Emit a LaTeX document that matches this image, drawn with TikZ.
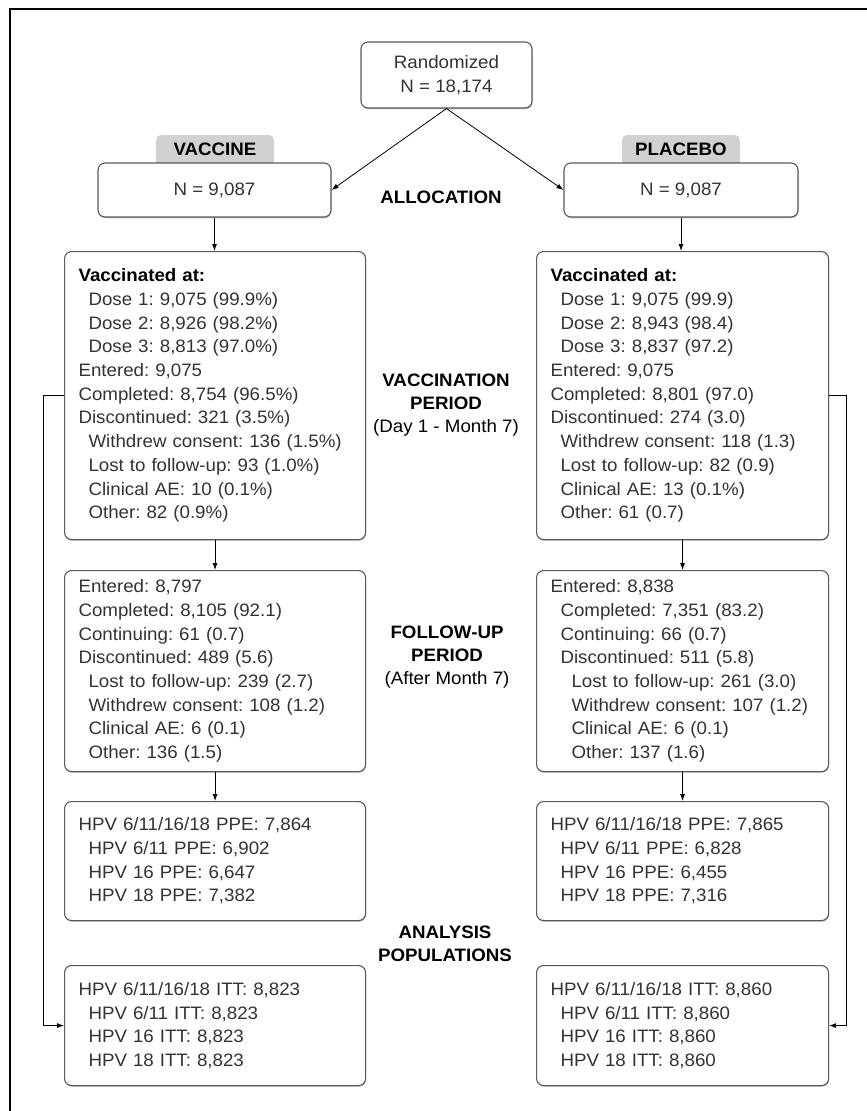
\documentclass[tikz,border=0pt]{standalone}
\usepackage{fontspec}
\setmainfont{Liberation Sans}[FakeStretch=1.04]
\usetikzlibrary{arrows.meta,shadows}
\frenchspacing
\newcommand{\ind}{\hspace*{10pt}}
\newcommand{\indd}{\hspace*{21pt}}

\begin{document}
\begin{tikzpicture}[x=1pt,y=-1pt,
  txt/.style={font=\fontsize{18}{23.7}\selectfont},
  head/.style={font=\bfseries\fontsize{18}{23.5}\selectfont, align=center, inner sep=0pt},
  box/.style={txt, draw=black!65, line width=1.1pt, rounded corners=7pt, fill=white,
    anchor=north west, align=left, inner xsep=14pt, inner ysep=0pt, text=black!80,
    drop shadow={shadow xshift=0.6pt, shadow yshift=-1.3pt, fill=black!45}},
  lbox/.style={box, text width=273pt},
  rbox/.style={box, text width=264pt},
  arr/.style={-{Latex[length=7pt,width=5pt]}, line width=0.8pt}]
\useasboundingbox (0,0) rectangle (867,1111);
%frame
\draw[line width=1.3pt] (867,9) -- (10,9) -- (10,1111);
%top
\node[box, anchor=center, align=center, inner xsep=0pt, minimum width=171pt, minimum height=66pt] (rand) at (446.5,75) {Randomized\\N = 18,174};
\fill[black!18, rounded corners=5pt] (156,135) rectangle (274,172);
\fill[black!18, rounded corners=5pt] (622,135) rectangle (740,172);
\node[head] (tv) at (215,149) {VACCINE};
\node[head] (tp) at (681,149) {PLACEBO};
\node[box, anchor=center, align=center, inner xsep=0pt, minimum width=233pt, minimum height=54pt] (nv) at (214.5,190) {N = 9,087};
\node[box, anchor=center, align=center, inner xsep=0pt, minimum width=234pt, minimum height=54pt] (np) at (681,190) {N = 9,087};
\node[head] (alloc) at (441,197) {ALLOCATION};
%vaccination period
\node[lbox, minimum height=288pt] (vv) at (64,251) {\textbf{\color{black}Vaccinated at:}\\
\ind Dose 1: 9,075 (99.9\%)\\
\ind Dose 2: 8,926 (98.2\%)\\
\ind Dose 3: 8,813 (97.0\%)\\
Entered: 9,075\\
Completed: 8,754 (96.5\%)\\
Discontinued: 321 (3.5\%)\\
\ind Withdrew consent: 136 (1.5\%)\\
\ind Lost to follow-up: 93 (1.0\%)\\
\ind Clinical AE: 10 (0.1\%)\\
\ind Other: 82 (0.9\%)};
\node[rbox, minimum height=288pt] (vp) at (536,251) {\textbf{\color{black}Vaccinated at:}\\
\ind Dose 1: 9,075 (99.9)\\
\ind Dose 2: 8,943 (98.4)\\
\ind Dose 3: 8,837 (97.2)\\
Entered: 9,075\\
Completed: 8,801 (97.0)\\
Discontinued: 274 (3.0)\\
\ind Withdrew consent: 118 (1.3)\\
\ind Lost to follow-up: 82 (0.9)\\
\ind Clinical AE: 13 (0.1\%)\\
\ind Other: 61 (0.7)};
\node[head] (vper) at (446,392) {VACCINATION\\PERIOD};
\node[txt, inner sep=0pt] (vday) at (446,428) {(Day 1 - Month 7)};
%follow-up period
\node[lbox, minimum height=201pt] (fv) at (64,570) {Entered: 8,797\\
Completed: 8,105 (92.1)\\
Continuing: 61 (0.7)\\
Discontinued: 489 (5.6)\\
\ind Lost to follow-up: 239 (2.7)\\
\ind Withdrew consent: 108 (1.2)\\
\ind Clinical AE: 6 (0.1)\\
\ind Other: 136 (1.5)};
\node[rbox, minimum height=201pt] (fp) at (536,570) {Entered: 8,838\\
\ind Completed: 7,351 (83.2)\\
\ind Continuing: 66 (0.7)\\
\ind Discontinued: 511 (5.8)\\
\indd Lost to follow-up: 261 (3.0)\\
\indd Withdrew consent: 107 (1.2)\\
\indd Clinical AE: 6 (0.1)\\
\indd Other: 137 (1.6)};
\node[head] (fper) at (447,644) {FOLLOW-UP\\PERIOD};
\node[txt, inner sep=0pt] (fmon) at (447,680) {(After Month 7)};
%analysis populations
\node[lbox, minimum height=119pt] (pv) at (64,801) {HPV 6/11/16/18 PPE: 7,864\\
\ind HPV 6/11 PPE: 6,902\\
\ind HPV 16 PPE: 6,647\\
\ind HPV 18 PPE: 7,382};
\node[rbox, minimum height=119pt] (pp) at (536,801) {HPV 6/11/16/18 PPE: 7,865\\
\ind HPV 6/11 PPE: 6,828\\
\ind HPV 16 PPE: 6,455\\
\ind HPV 18 PPE: 7,316};
\node[head] (anal) at (445,944) {ANALYSIS\\POPULATIONS};
\node[lbox, minimum height=120pt] (iv) at (64,965) {HPV 6/11/16/18 ITT: 8,823\\
\ind HPV 6/11 ITT: 8,823\\
\ind HPV 16 ITT: 8,823\\
\ind HPV 18 ITT: 8,823};
\node[rbox, minimum height=120pt] (ip) at (536,965) {HPV 6/11/16/18 ITT: 8,860\\
\ind HPV 6/11 ITT: 8,860\\
\ind HPV 16 ITT: 8,860\\
\ind HPV 18 ITT: 8,860};
%connectors
\draw[arr] (rand.south) -- (nv.east);
\draw[arr] (rand.south) -- (np.west);
\draw[arr] (nv.south) -- (nv.south |- vv.north);
\draw[arr] (np.south) -- (np.south |- vp.north);
\draw[arr] (vv.south) -- (fv.north);
\draw[arr] (vp.south) -- (fp.north);
\draw[arr] (fv.south) -- (pv.north);
\draw[arr] (fp.south) -- (pp.north);
\draw[arr] (vv.west) -- ++(-21,0) |- (iv.west);
\draw[arr] (vp.east) -- ++(17,0) |- (ip.east);
\end{tikzpicture}
\end{document}
